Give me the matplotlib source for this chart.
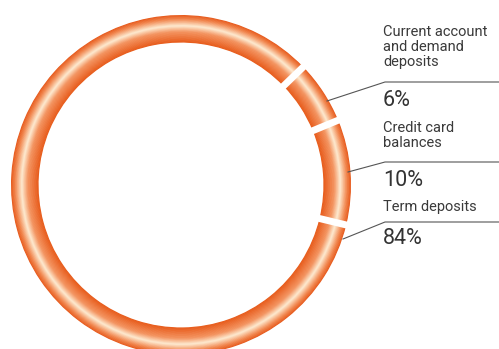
import numpy as np
import matplotlib
matplotlib.use("Agg")
import matplotlib.pyplot as plt

labels = ["Current account\nand demand\ndeposits", "Credit card\nbalances", "Term deposits"]
values = [6, 10, 84]
pct_labels = ["6%", "10%", "84%"]

W, H = 499, 349
fig = plt.figure(figsize=(W / 100, H / 100), dpi=100)
ax = fig.add_axes([0, 0, 1, 1])

cx, cy = 181, H - 185
r_out, r_in = 170, 143
start = 44

# radial colour profile (t=0 outer, t=1 inner)
stops_t = [0.0, 0.15, 0.40, 0.62, 1.0]
stops_c = np.array([(230, 88, 26), (241, 133, 76), (254, 234, 208), (244, 148, 96), (232, 92, 28)]) / 255.0
n = 40
edges = np.linspace(r_out, r_in, n + 1)
for i in range(n):
    t = (i + 0.5) / n
    col = [np.interp(t, stops_t, stops_c[:, k]) for k in range(3)]
    ax.pie(values, center=(cx, cy), radius=edges[i], startangle=start, counterclock=False,
           colors=[col] * len(values), wedgeprops=dict(width=edges[i] - edges[i + 1] + 0.6, linewidth=0),
           frame=True)
ax.set_xlim(0, W)
ax.set_ylim(0, H)
ax.set_aspect("equal")
ax.axis("off")

# white gaps at the segment boundaries
cum = np.cumsum([0] + values)
for c in cum[:-1]:
    ang = np.deg2rad(start - 360 * c / sum(values))
    ax.plot([cx + (r_in - 3) * np.cos(ang), cx + (r_out + 3) * np.cos(ang)],
            [cy + (r_in - 3) * np.sin(ang), cy + (r_out + 3) * np.sin(ang)],
            color="white", lw=5.0, solid_capstyle="butt", zorder=5)

# leader lines and labels
anchors = [(327, 101), (348, 172), (343, 239)]
elbows = [(385, 82), (385, 162), (385, 222)]
label_tops = [25, 121, 200]
pct_y = [100, 180, 238]
for lab, pct, a, e, lt, py in zip(labels, pct_labels, anchors, elbows, label_tops, pct_y):
    ax.plot([a[0], e[0], W], [H - a[1], H - e[1], H - e[1]], color="#555555", lw=0.8, zorder=6)
    ax.text(383, H - lt, lab, ha="left", va="top", fontsize=10.5, color="#3a3a3a",
            family="Roboto", linespacing=1.08)
    ax.text(383, H - py, pct, ha="left", va="center", fontsize=15.5, color="#333333",
            family="Roboto")

fig.savefig("out.png", dpi=100)
